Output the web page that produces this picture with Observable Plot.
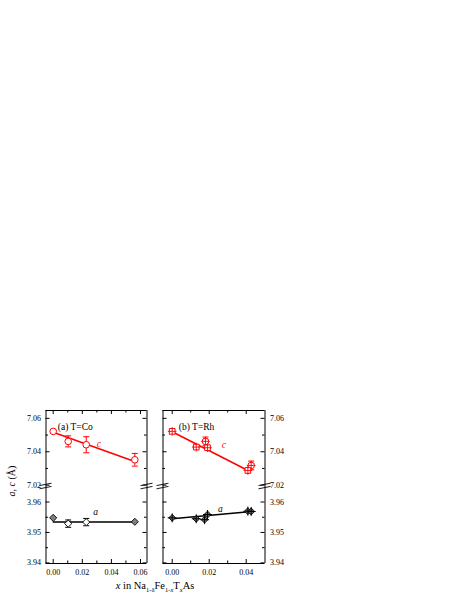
<!DOCTYPE html>
<html><head><meta charset="utf-8">
<script src="https://cdn.jsdelivr.net/npm/d3@7"></script>
<script src="https://cdn.jsdelivr.net/npm/@observablehq/plot@0.6"></script>
<style>
body{margin:0;background:#fff;}
#c{position:relative;width:463px;height:599px;font-family:'Liberation Serif','Times New Roman',Times,serif;}
#c svg{position:absolute;left:0;top:0;}
#c svg text{font-family:'Liberation Serif','Times New Roman',Times,serif;}
</style></head><body><div id="c"></div>
<script>
// ---------- data: panel (a) T=Co ----------
const coX      = [0.0000, 0.0103, 0.0227, 0.0561];
const coC      = [7.0522, 7.0462, 7.0442, 7.0352];
const coCErr   = [0.0005, 0.0033, 0.0048, 0.0038];
const coA      = [3.9548, 3.9529, 3.9534, 3.9535];
const coAErr   = [0.0000, 0.0012, 0.0012, 0.0000];
const coAFill  = ["#808080", "#ffffff", "#ffffff", "#808080"];
const coCFitX  = [0.000, 0.056];
const coCFitY  = [7.0517, 7.0342];
const coAFitX  = [0.000, 0.056];
const coAFitY  = [3.9534, 3.9534];
// ---------- data: panel (b) T=Rh ----------
const rhSqX    = [0.0000, 0.0130, 0.0191, 0.0409];
const rhSqC    = [7.0522, 7.0428, 7.0424, 7.0288];
const rhCircX  = [0.0180, 0.0427];
const rhCircC  = [7.0462, 7.0318];
const rhCircErr= [0.0026, 0.0026];
const rhAX     = [0.0000, 0.0130, 0.0175, 0.0191, 0.0409, 0.0427];
const rhA      = [3.9548, 3.9545, 3.9542, 3.9559, 3.9570, 3.9569];
const rhCFitX  = [0.000, 0.042];
const rhCFitY  = [7.0520, 7.0282];
const rhAFitX  = [0.000, 0.043];
const rhAFitY  = [3.9545, 3.9569];
// ---------- ticks & labels ----------
const xTicksA      = [0, 0.02, 0.04, 0.06];
const xMinorA      = [0.01, 0.03, 0.05];
const xTicksB      = [0, 0.02, 0.04];
const xMinorB      = [0.01, 0.03];
const yTicksC      = [7.02, 7.04, 7.06];
const yMinorC      = [7.03, 7.05];
const yTicksA      = [3.94, 3.95, 3.96];
const yMinorA      = [3.945, 3.955];
const titleA = "(a) T=Co";
const titleB = "(b) T=Rh";
const labelCX = [0.0313, 0.0279], labelCY = [7.0448, 7.0442];
const labelAX = [0.0291, 0.0261], labelAY = [3.9567, 3.9578];

// ---------- layout ----------
const W = 463, H = 599;
const RED = "#ff0000";
const FONT = "'Liberation Serif','Times New Roman',Times,serif";
const panels = {
  a: {left: 45.5, right: 146.5, xDomain: [-0.00495, 0.06447], xMajor: xTicksA, xMinor: xMinorA, yAnchor: "left"},
  b: {left: 162.5, right: 264.5, xDomain: [-0.00497, 0.05016], xMajor: xTicksB, xMinor: xMinorB, yAnchor: "right"}
};
const segs = {
  up:  {top: 410, bottom: 486, yDomain: [7.0192, 7.0647], yMajor: yTicksC, yMinor: yMinorC, upper: true},
  low: {top: 486, bottom: 563, yDomain: [3.9398, 3.9651], yMajor: yTicksA, yMinor: yMinorA, upper: false}
};
const capSymbol = {draw(ctx, size) { const w = Math.sqrt(size / Math.PI); ctx.moveTo(-w, 0); ctx.lineTo(w, 0); }};
const zip = (xs, ys, es, fs) => xs.map((x, i) => ({x, y: ys[i], e: es ? es[i] : 0, f: fs ? fs[i] : null}));

function frameMarks(p, s) {
  const iw = p.right - p.left, ih = s.bottom - s.top;
  const L = 4, l = 2.5;
  const m = [
    Plot.ruleX(p.xDomain, {stroke: "black", strokeWidth: 1}),
    Plot.ruleY([s.upper ? s.yDomain[1] : s.yDomain[0]], {stroke: "black", strokeWidth: 1}),
    Plot.tickY(s.yMajor, {y: d => d, insetRight: iw - L, stroke: "black"}),
    Plot.tickY(s.yMajor, {y: d => d, insetLeft: iw - L, stroke: "black"}),
    Plot.tickY(s.yMinor, {y: d => d, insetRight: iw - l, stroke: "black"}),
    Plot.tickY(s.yMinor, {y: d => d, insetLeft: iw - l, stroke: "black"}),
    Plot.tickX(p.xMajor, {x: d => d, insetTop: s.upper ? 0 : ih - L, insetBottom: s.upper ? ih - L : 0, stroke: "black"}),
    Plot.tickX(p.xMinor, {x: d => d, insetTop: s.upper ? 0 : ih - l, insetBottom: s.upper ? ih - l : 0, stroke: "black"})
  ];
  m.push(Plot.axisY(s.yMajor, {anchor: p.yAnchor, tickSize: 0, tickPadding: 5, tickFormat: d => d.toFixed(2), label: null, fontSize: 8, fontFamily: FONT}));
  if (!s.upper)
    m.push(Plot.axisX(p.xMajor, {anchor: "bottom", tickSize: 0, tickPadding: 6, tickFormat: d => d.toFixed(2), label: null, fontSize: 8, fontFamily: FONT}));
  return m;
}

function makePlot(p, s, marks) {
  return Plot.plot({
    width: W, height: H,
    marginLeft: p.left, marginRight: W - p.right, marginTop: s.top, marginBottom: H - s.bottom,
    x: s.upper ? {domain: p.xDomain, axis: null} : {domain: p.xDomain},
    y: {domain: s.yDomain},
    style: {background: "transparent", fontFamily: FONT, fontSize: "8px", overflow: "visible"},
    marks: [...frameMarks(p, s), ...marks]
  });
}

function errMarks(rows, color, capR) {
  const r = rows.filter(d => d.e > 0);
  return [
    Plot.ruleX(r, {x: "x", y1: d => d.y - d.e, y2: d => d.y + d.e, stroke: color, strokeWidth: 1}),
    Plot.dot(r, {x: "x", y: d => d.y + d.e, symbol: capSymbol, r: capR, stroke: color, fill: "none", strokeWidth: 1}),
    Plot.dot(r, {x: "x", y: d => d.y - d.e, symbol: capSymbol, r: capR, stroke: color, fill: "none", strokeWidth: 1})
  ];
}

const root = document.getElementById("c");

// (a) upper: c
{
  const rows = zip(coX, coC, coCErr);
  const fit = zip(coCFitX, coCFitY);
  root.append(makePlot(panels.a, segs.up, [
    Plot.line(fit, {x: "x", y: "y", stroke: RED, strokeWidth: 1.5}),
    ...errMarks(rows, RED, 3),
    Plot.dot(rows, {x: "x", y: "y", r: 3.3, symbol: "circle", stroke: RED, fill: "white", strokeWidth: 1}),
    Plot.text([titleA], {frameAnchor: "top-left", dx: 11.8, dy: 13, fontSize: 9.5, textAnchor: "start", fontFamily: FONT}),
    Plot.text(["c"], {x: labelCX[0], y: labelCY[0], fontSize: 9.5, fontStyle: "italic", fill: RED, fontFamily: FONT})
  ]));
}
// (a) lower: a
{
  const rows = zip(coX, coA, coAErr, coAFill);
  const fit = zip(coAFitX, coAFitY);
  root.append(makePlot(panels.a, segs.low, [
    Plot.line(fit, {x: "x", y: "y", stroke: "black", strokeWidth: 1.5}),
    ...errMarks(rows, "black", 3),
    Plot.dot(rows, {x: "x", y: "y", r: 3.2, symbol: "diamond2", stroke: "black", fill: d => d.f, strokeWidth: 0.9}),
    Plot.text(["a"], {x: labelAX[0], y: labelAY[0], fontSize: 9.5, fontStyle: "italic", fill: "black", fontFamily: FONT})
  ]));
}
// (b) upper: c
{
  const sq = zip(rhSqX, rhSqC);
  const ci = zip(rhCircX, rhCircC, rhCircErr);
  const fit = zip(rhCFitX, rhCFitY);
  root.append(makePlot(panels.b, segs.up, [
    Plot.line(fit, {x: "x", y: "y", stroke: RED, strokeWidth: 1.5}),
    ...errMarks(ci, RED, 3),
    Plot.dot(ci, {x: "x", y: "y", r: 3.3, symbol: "circle", stroke: RED, fill: "white", strokeWidth: 1}),
    Plot.dot(ci, {x: "x", y: "y", r: 2.9, symbol: "plus", stroke: RED, strokeWidth: 0.9}),
    Plot.dot(sq, {x: "x", y: "y", r: 3.2, symbol: "square", stroke: RED, fill: "white", strokeWidth: 1}),
    Plot.dot(sq, {x: "x", y: "y", r: 2.9, symbol: "plus", stroke: RED, strokeWidth: 0.9}),
    Plot.text([titleB], {frameAnchor: "top-left", dx: 15.8, dy: 13, fontSize: 9.5, textAnchor: "start", fontFamily: FONT}),
    Plot.text(["c"], {x: labelCX[1], y: labelCY[1], fontSize: 9.5, fontStyle: "italic", fill: RED, fontFamily: FONT})
  ]));
}
// (b) lower: a
{
  const rows = zip(rhAX, rhA);
  const fit = zip(rhAFitX, rhAFitY);
  root.append(makePlot(panels.b, segs.low, [
    Plot.line(fit, {x: "x", y: "y", stroke: "black", strokeWidth: 1.5}),
    Plot.dot(rows, {x: "x", y: "y", r: 3.1, symbol: "diamond2", stroke: "black", fill: "#6e6e6e", strokeWidth: 0.9}),
    Plot.dot(rows, {x: "x", y: "y", r: 3.0, symbol: "plus", stroke: "black", strokeWidth: 1}),
    Plot.text(["a"], {x: labelAX[1], y: labelAY[1], fontSize: 9.5, fontStyle: "italic", fill: "black", fontFamily: FONT})
  ]));
}

// ---------- overlay: axis break marks and axis titles ----------
const ov = d3.select(root).append("svg").attr("width", W).attr("height", H)
  .style("font-family", FONT).style("overflow", "visible");
const breakY = 486;
for (const xe of [panels.a.left, panels.a.right, panels.b.left, panels.b.right]) {
  for (const yo of [-1.6, 1.6]) {
    ov.append("line").attr("x1", xe - 6).attr("y1", breakY + yo + 1.2)
      .attr("x2", xe + 6).attr("y2", breakY + yo - 1.2)
      .attr("stroke", "black").attr("stroke-width", 0.9);
  }
}
// x-axis title
const xt = ov.append("text").attr("x", 155).attr("y", 589).attr("text-anchor", "middle").style("font-size", "10.5px");
xt.append("tspan").style("font-style", "italic").text("x");
xt.append("tspan").text(" in Na");
xt.append("tspan").attr("dy", 2.5).style("font-size", "6.5px").text("1-δ");
xt.append("tspan").attr("dy", -2.5).text("Fe");
xt.append("tspan").attr("dy", 2.5).style("font-size", "6.5px").text("1-");
xt.append("tspan").style("font-size", "6.5px").style("font-style", "italic").text("x");
xt.append("tspan").attr("dy", -2.5).text("T");
xt.append("tspan").attr("dy", 2.5).style("font-size", "6.5px").style("font-style", "italic").text("x");
xt.append("tspan").attr("dy", -2.5).text("As");
// y-axis title
const yt = ov.append("text").attr("transform", "translate(15,481) rotate(-90)").attr("text-anchor", "middle").style("font-size", "10px");
yt.append("tspan").style("font-style", "italic").text("a");
yt.append("tspan").text(", ");
yt.append("tspan").style("font-style", "italic").text("c");
yt.append("tspan").text(" (Å)");
</script>
</body></html>
